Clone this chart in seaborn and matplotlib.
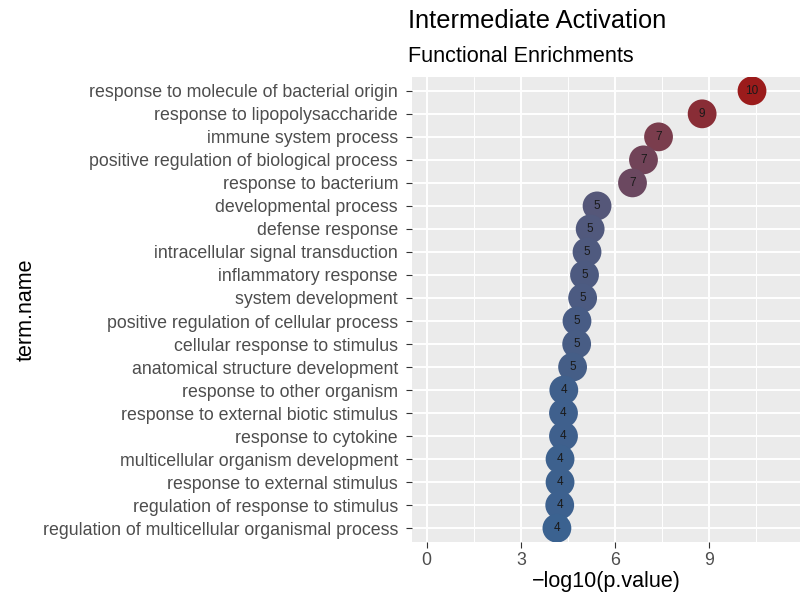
import numpy as np
import pandas as pd
import matplotlib
matplotlib.use("Agg")
import matplotlib.pyplot as plt
import seaborn as sns
from matplotlib.colors import LinearSegmentedColormap
from matplotlib.ticker import MultipleLocator

terms = [
    "response to molecule of bacterial origin",
    "response to lipopolysaccharide",
    "immune system process",
    "positive regulation of biological process",
    "response to bacterium",
    "developmental process",
    "defense response",
    "intracellular signal transduction",
    "inflammatory response",
    "system development",
    "positive regulation of cellular process",
    "cellular response to stimulus",
    "anatomical structure development",
    "response to other organism",
    "response to external biotic stimulus",
    "response to cytokine",
    "multicellular organism development",
    "response to external stimulus",
    "regulation of response to stimulus",
    "regulation of multicellular organismal process",
]
neg_log10_p = [10.37, 8.78, 7.39, 6.91, 6.56, 5.43, 5.21, 5.11, 5.03, 4.97,
               4.79, 4.78, 4.65, 4.37, 4.36, 4.36, 4.25, 4.25, 4.24, 4.15]
counts = [10, 9, 7, 7, 7, 5, 5, 5, 5, 5, 5, 5, 5, 4, 4, 4, 4, 4, 4, 4]

title = "Intermediate Activation"
subtitle = "Functional Enrichments"
x_label = "\u2212log10(p.value)"
y_label = "term.name"

sns.set_theme(style="darkgrid")
plt.rcParams['font.family'] = ['Liberation Sans', 'DejaVu Sans']

fig = plt.figure(figsize=(8.03, 5.97), dpi=100)
ax = fig.add_axes([412 / 803, 1 - 542 / 597, 388 / 803, 465 / 597])
ax.set_facecolor('#ebebeb')

df = pd.DataFrame({"term": terms, "pval": neg_log10_p, "count": counts})

cmap = LinearSegmentedColormap.from_list(
    "grad", [(0.0, "#3b6290"), (0.2, "#55577a"), (0.52, "#7a3d4d"), (1.0, "#9b1b1b")])

sns.scatterplot(data=df, x="pval", y="term", hue="pval", palette=cmap,
                hue_norm=(min(neg_log10_p), max(neg_log10_p)), s=430,
                linewidth=0, legend=False, ax=ax, zorder=3)

for i, row in df.iterrows():
    ax.text(row["pval"], i, str(row["count"]), ha="center", va="center",
            fontsize=8.5, color="#1a1a1a", zorder=4)

n = len(terms)
ax.set_ylim(n - 0.4, -0.6)
ax.set_xlim(-0.47, 11.9)
ax.xaxis.set_major_locator(MultipleLocator(3))
ax.xaxis.set_minor_locator(MultipleLocator(1.5))
ax.grid(which="major", color="white", lw=1.4)
ax.grid(which="minor", axis="x", color="white", lw=0.7)
ax.set_axisbelow(True)
for s in ax.spines.values():
    s.set_visible(False)

ax.tick_params(axis="both", which="major", labelsize=12.8, labelcolor="#4d4d4d",
               color="#333333", length=4, width=0.8, pad=3, bottom=True, left=True)
ax.tick_params(axis="y", which="major", pad=6)
ax.tick_params(axis="x", which="minor", length=0)
ax.set_xticks([0, 3, 6, 9])
ax.set_xticklabels(["0", "3", "6", "9"])

ax.set_xlabel(x_label, fontsize=15.5, color="black")
ax.set_ylabel(y_label, fontsize=15.5, color="black")
ax.xaxis.set_label_coords(0.5, -(582 - 542) / 465)
ax.xaxis.label.set_va("center")
ax.yaxis.set_label_coords(-(412 - 26) / 388, 0.5)
ax.yaxis.label.set_va("center")

fig.text(408 / 803, 1 - 28 / 597, title, fontsize=18.3, color="black", va="baseline", ha="left")
fig.text(408 / 803, 1 - 62 / 597, subtitle, fontsize=15.6, color="black", va="baseline", ha="left")

fig.savefig("out.png", dpi=100)
